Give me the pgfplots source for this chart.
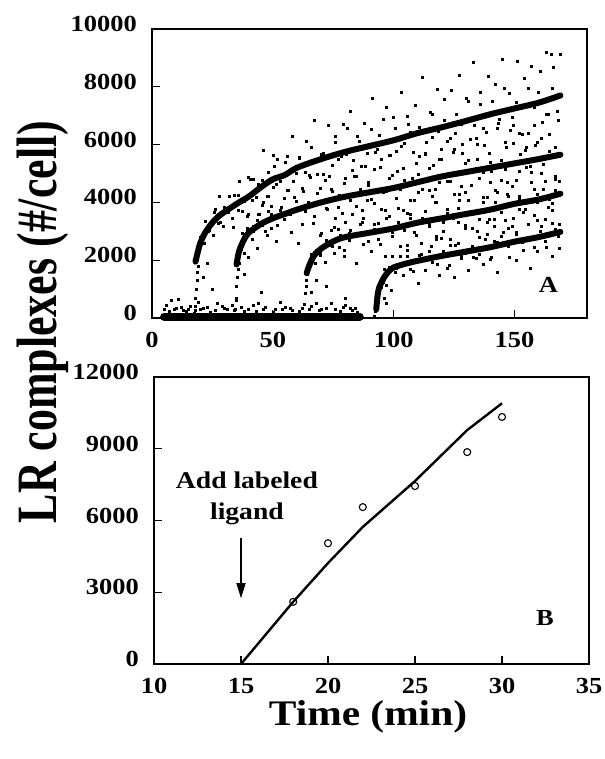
\documentclass[border=0pt]{standalone}
\usepackage{fontspec}
\setmainfont{Liberation Serif}[FakeStretch=1.15]
\newfontfamily\ylabfont{Liberation Serif}
\usepackage{pgfplots}
\pgfplotsset{compat=1.18}
\usetikzlibrary{arrows.meta}
\pgfplotsset{
  mystyle/.style={
    scale only axis,
    axis line style={line width=1.3pt},
    tick align=inside,
    xtick pos=bottom, ytick pos=left,
    major tick length=8pt,
    tick style={line width=1.2pt, black},
    /pgf/number format/assume math mode=true,
    /pgf/number format/1000 sep={},
    scaled ticks=false,
    tick label style={font=\fontsize{23}{23}\selectfont\bfseries, inner sep=0pt},
    xticklabel style={anchor=base, yshift=-30pt},
    yticklabel style={anchor=east, xshift=-15pt, yshift=5pt},
  },
  dots/.style={only marks, mark=square*, mark size=1.0pt, black},
  fit/.style={line width=6pt, line cap=round, black, smooth, no marks},
}
\begin{document}
\begin{tikzpicture}
\useasboundingbox (0pt,0pt) rectangle (604pt,759pt);
% ---------------- Panel A ----------------
\begin{axis}[mystyle, at={(152pt,441pt)}, anchor=south west,
  width=435pt, height=289pt, clip=false,
  xmin=0, xmax=180, ymin=0, ymax=10000,
  xtick={0,50,100,150}, ytick={0,2000,4000,6000,8000,10000}]
% baseline band before ligand addition
\addplot[line width=8pt, black, line cap=round] coordinates {(5,50) (86,50)};
\addplot[dots] coordinates {
(6,450) (9,300) (11,650) (14,250) (16,400) (21,350) (24,200) (27,500) (31,300)
(35,600) (38,250) (42,450) (46,300) (50,200) (53,550) (57,350) (61,250) (66,400)
(70,300) (74,500) (78,250) (82,350) (85,200) (8,600) (19,550) (29,420) (44,520) (63,480)
(80,430) (12,380) (33,450) (55,380) (68,520) (84,330)
(5,300) (7,250) (10,350) (13,280) (15,320) (18,260) (20,300) (23,380) (26,280) (30,330)
(34,270) (37,360) (40,300) (43,250) (47,380) (51,290) (54,320) (58,270) (62,350) (65,300)
(69,260) (72,340) (76,300) (79,380) (83,280)
(21,1400) (23,1900) (38,1500) (40,2100) (25,1000) (45,900) (72,1100) (80,700)
};
% experiment 1
\addplot[dots] coordinates {
(17.5,150) (18,400) (18,700) (18.2,1000) (18.5,1300) (18.7,1600) (19,1800)
(20,2780) (21.5,2600) (22,3340) (23.5,3050) (24,3270) (25.5,2860) (26,3760) (27.5,3270)
(28,4230) (29.5,3190) (30,3830) (31.5,3660) (32,4230) (33.5,3150) (34,4250) (35.5,3730)
(36,4750) (37.5,3680) (38,4155) (39.5,3520) (40,4860) (41.5,4060) (42,4810) (43.5,3400)
(44,4630) (45.5,3890) (46,5805) (47.5,4215) (48,5050) (49.5,3870) (50,5640) (51.5,4630)
(52,5480) (53.5,3850) (55,5400) (56.5,4430) (58,6300) (59.5,5020) (61,5550) (62.5,4390)
(64,6100) (65.5,4870) (67,6840) (68.5,4330) (70,5670) (71.5,4775) (73,6685) (74.5,5270)
(76,6280) (77.5,4250) (79,6710) (80.5,5660) (82,7140) (83.5,4920) (85,6300) (86.5,5250)
(88,6755) (89.5,4705) (91,7595) (92.5,5725) (94,6325) (95.5,4360) (97,7300) (98.5,5620)
(100,6950) (101.5,5090) (103,7820) (104.5,6060) (106,6700) (107.5,4840) (109,7370) (110.5,5600)
(112,8330) (113.5,6070) (115,7130) (116.5,5270) (118,7925) (119.5,5855) (121,6830) (122.5,4970)
(124,7890) (125.5,6380) (127,8400) (128.5,5690) (130,7590) (131.5,6190) (133,8860) (134.5,5480)
(136,7390) (137.5,5990) (139,8380) (140.5,5075) (142,8095) (143.5,6870) (145,8970) (146.5,5895)
(148,7775) (149.5,6655) (151,8870) (152.5,5680) (154,8280) (155.5,6390) (157,8700) (158.5,5970)
(160,7810) (161.5,6770) (163,9210) (164.5,5760) (166,8680) (167.5,7170) (169,9140) (165,9140)
(20.75,2840) (23.25,3000) (25.75,3650) (28.25,3330) (30.75,3790) (33.25,3470) (35.75,4240)
(38.25,4055) (40.75,4790) (43.25,4170) (45.75,4755) (48.25,4220) (50.75,5240) (53.25,4750)
(55.75,5590) (58.25,4735) (60.75,5540) (63.25,5040) (65.75,5920) (68.25,4960) (70.75,5690)
(73.25,4910) (75.75,6090) (78.25,5610) (80.75,6580) (83.25,5460) (85.75,6130) (88.25,5245)
(90.75,6540) (93.25,5840) (95.75,6880) (98.25,5620) (100.75,6570) (103.25,5930) (105.75,6990)
(108.25,5750) (110.75,6610) (113.25,5660) (115.75,7035) (118.25,6465) (120.75,7565) (123.25,6230)
(125.75,7050) (128.25,6020) (130.75,7490) (133.25,6670) (135.75,7820) (138.25,6415) (140.75,7490)
(143.25,6745) (145.75,7955) (148.25,6510) (150.75,7480) (153.25,6350) (155.75,7960) (158.25,7300)
(160.75,8550) (163.25,7060) (165.75,7960) (168.25,6830)
};
% experiment 2
\addplot[dots] coordinates {
(34.5,300) (35,700) (35,1100) (35.2,1400) (35.5,1700) (36,1900)
(36,2150) (37.5,2930) (38,2245) (39.5,3030) (40,3590) (41.5,2730) (42,3160) (43.5,2405)
(44,3605) (45.5,3225) (46,3990) (47.5,2860) (48,3710) (49.5,3100) (50,4530) (51.5,2660)
(53,3720) (54.5,3410) (56,4410) (57.5,2965) (59,4175) (60.5,2590) (62,4500) (63.5,3700)
(65,4930) (66.5,3290) (68,4020) (69.5,2855) (71,4985) (72.5,3750) (74,4455) (75.5,3150)
(77,5500) (78.5,3610) (80,4840) (81.5,2950) (83,5130) (84.5,3870) (86,4460) (87.5,3470)
(89,5700) (90.5,4105) (92,5145) (93.5,3295) (95,5510) (96.5,3730) (98,4830) (99.5,2960)
(101,5770) (102.5,4450) (104,5200) (105.5,3610) (107,6435) (108.5,4090) (110,4985) (111.5,3400)
(113,5710) (114.5,4410) (116,6245) (117.5,3995) (119,5480) (120.5,3300) (122,6130) (123.5,4740)
(125,5850) (126.5,3790) (128,6720) (129.5,4340) (131,5460) (132.5,3590) (134,6210) (135.5,4840)
(137,6560) (138.5,4180) (140,5400) (141.5,3430) (143,6550) (144.5,4770) (146,6090) (147.5,4220)
(149,6940) (150.5,4760) (152,6380) (153.5,4000) (155,5920) (156.5,5250) (158,6670) (159.5,4290)
(161,6210) (162.5,4730) (164,7060) (165.5,3980) (167,5910) (168.5,4740)
(37,2380) (39.5,3100) (42,3000) (44.5,3580) (47,2990) (49.5,3595) (52,3210) (54.5,4130)
(57,3595) (59.5,4055) (62,3240) (64.5,4010) (67,3510) (69.5,4505) (72,3805) (74.5,4390)
(77,3820) (79.5,4670) (82,4070) (84.5,4910) (87,3715) (89.5,4605) (92,3955) (94.5,5230)
(97,4370) (99.5,4940) (102,3810) (104.5,4760) (107,4060) (109.5,5355) (112,4455) (114.5,5170)
(117,4460) (119.5,5490) (122,4730) (124.5,5750) (127,4300) (129.5,5340) (132,4580) (134.5,6020)
(137,5060) (139.5,5690) (142,4430) (144.5,5470) (147,4710) (149.5,6050) (152,5080) (154.5,5810)
(157,5050) (159.5,6090) (162,5330) (164.5,6370) (167,4910)
};
% experiment 3
\addplot[dots] coordinates {
(63.5,850) (64,1100) (64,1300) (64.3,1500) (64.6,1700) (66,900) (68,1300)
(66,2200) (67.5,1900) (68,2340) (69.5,2240) (70,2925) (71.5,1920) (72,2700) (73.5,2530)
(74,3040) (75.5,2255) (76,3445) (77.5,2460) (78,2850) (79.5,2140) (80,3300) (81.5,2690)
(83,3585) (84.5,1910) (86,3250) (87.5,2555) (89,4090) (90.5,2320) (92,3240) (93.5,2715)
(95,3750) (96.5,2140) (98,3525) (99.5,2960) (101,4150) (102.5,2490) (104,3730) (105.5,2360)
(107,3440) (108.5,2980) (110,4350) (111.5,2200) (113,3690) (114.5,3295) (116,4215) (117.5,2735)
(119,4705) (120.5,3005) (122,3630) (123.5,2530) (125,4280) (126.5,3325) (128,4545) (129.5,2240)
(131,4060) (132.5,3105) (134,5170) (135.5,2795) (137,4020) (138.5,3325) (140,4710) (141.5,2655)
(143,4360) (144.5,3670) (146,5140) (147.5,3090) (149,4560) (150.5,2985) (152,4210) (153.5,3675)
(155,5220) (156.5,2760) (158,4460) (159.5,4010) (161,5000) (162.5,3430) (164,5540) (165.5,3735)
(167,4410) (168.5,3250)
(67,2275) (69.5,2180) (72,2570) (74.5,2500) (77,3080) (79.5,2340) (82,3050) (84.5,2845)
(87,3315) (89.5,2660) (92,3060) (94.5,2545) (97,3450) (99.5,2830) (102,3325) (104.5,3040)
(107,3580) (109.5,2870) (112,3470) (114.5,3160) (117,4000) (119.5,2765) (122,3780) (124.5,3445)
(127,4085) (129.5,3215) (132,3695) (134.5,3020) (137,4180) (139.5,3420) (142,4020) (144.5,3670)
(147,4280) (149.5,3450) (152,4130) (154.5,3770) (157,4690) (159.5,3370) (162,4460) (164.5,4110)
(167,4810)
};
% experiment 4
\addplot[dots] coordinates {
(92,50) (92.5,250) (93,500) (93,800) (93.5,1000) (94,1200) (96,700) (97,500) (99,950)
(95,1075) (96,1700) (97,1145) (98,1770) (99.5,2140) (101,1730) (102.5,2145) (104,1475)
(105.5,2530) (107,1690) (108.5,2000) (110,1215) (111.5,2590) (113,1670) (114.5,2325) (116,1945)
(117.5,2820) (119,1470) (120.5,2245) (122,1720) (123.5,2740) (125,1410) (126.5,2585) (128,2060)
(129.5,3105) (131,1640) (132.5,2485) (134,2065) (135.5,3415) (137,1850) (138.5,2905) (140,2030)
(141.5,3190) (143,1590) (144.5,2825) (146,3400) (147.5,2470) (149,3160) (150.5,1985) (152,3750)
(153.5,2330) (155,2770) (156.5,1715) (158,3540) (159.5,2310) (161,3180) (162.5,2670) (164,3840)
(165.5,2130) (167,3060) (168.5,2430)
(95.5,1255) (98,1770) (100.5,1590) (103,1910) (105.5,2145) (108,1630) (110.5,2170) (113,1985)
(115.5,2475) (118,1860) (120.5,2300) (123,1830) (125.5,2520) (128,2160) (130.5,2345) (133,2110)
(135.5,2205) (138,2720) (140.5,2095) (143,2610) (145.5,2970) (148,2120) (150.5,2885) (153,2620)
(155.5,3260) (158,2460) (160.5,2990) (163,2440) (165.5,3270) (168,2840)
};
% fitted curves
\addplot[fit] coordinates {
(18,1950) (19,2300) (20,2600) (22,2950) (25,3300) (28,3550) (32,3780) (36,4000) (40,4200)
(45,4520) (50,4800) (55,4950) (60,5200) (70,5500) (80,5750) (90,5950) (100,6150) (110,6400)
(120,6600) (130,6820) (140,7050) (150,7250) (160,7450) (169,7700)
};
\addplot[fit] coordinates {
(35,1850) (36,2300) (38,2700) (40,2950) (45,3250) (50,3450) (55,3600) (60,3750) (70,4000)
(80,4200) (90,4350) (100,4500) (110,4700) (120,4900) (130,5050) (140,5200) (150,5350)
(160,5500) (169,5650)
};
\addplot[fit] coordinates {
(64,1550) (65,1800) (67,2150) (70,2400) (75,2650) (80,2800) (90,2950) (100,3100) (110,3300)
(120,3450) (130,3600) (140,3750) (150,3950) (160,4100) (169,4300)
};
\addplot[fit] coordinates {
(92.8,300) (93.3,750) (94,1050) (96,1400) (98,1620) (100,1750) (105,1880) (110,1980)
(120,2150) (130,2300) (140,2450) (150,2640) (160,2800) (169,2980)
};
\node[font=\fontsize{23}{23}\selectfont\bfseries] at (axis cs:164,1142) {A};
\end{axis}
% ---------------- Panel B ----------------
\begin{axis}[mystyle, at={(154pt,95pt)}, anchor=south west,
  width=435pt, height=287pt,
  xmin=10, xmax=35, ymin=0, ymax=12000,
  xtick={10,15,20,25,30,35}, ytick={0,3000,6000,9000,12000}]
\addplot[line width=2.4pt, black, no marks] coordinates {
(15,0) (18,2600) (20,4220) (22,5730) (25,7650) (28,9780) (30,10900)
};
\addplot[only marks, mark=o, mark size=3.5pt, black, mark options={line width=1.1pt}] coordinates {
(18,2600) (20,5050) (22,6560) (25,7440) (28,8860) (30,10330)
};
\draw[-{Triangle[length=15pt,width=9pt]}, line width=1.3pt] (axis cs:15,5250) -- (axis cs:15,2750);
\node[align=center, font=\fontsize{24}{31}\selectfont\bfseries] at (axis cs:15.34,6941) {Add labeled\\ligand};
\node[font=\fontsize{23}{23}\selectfont\bfseries] at (axis cs:32.47,1923) {B};
\end{axis}
% axis titles
\node[rotate=90, xscale=0.77, anchor=base, font=\ylabfont\bfseries\fontsize{57}{57}\selectfont] at (56pt,437pt) {LR complexes (\#/cell)};
\node[anchor=base, font=\bfseries\fontsize{36}{36}\selectfont] at (368pt,33pt) {Time (min)};
\end{tikzpicture}
\end{document}
